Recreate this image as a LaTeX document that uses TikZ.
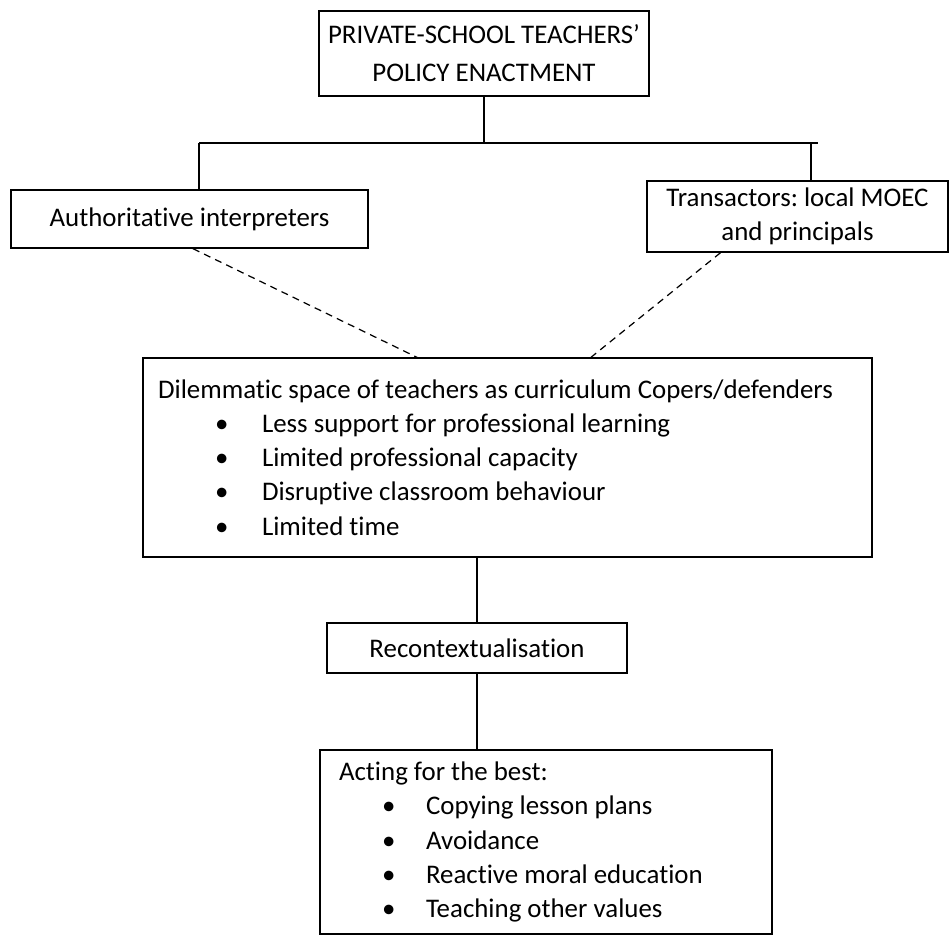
\documentclass[tikz,border=0pt]{standalone}
\usepackage{fontspec}
\setmainfont{Carlito}[Ligatures=NoCommon]
\usetikzlibrary{positioning,calc}
\frenchspacing

\newcommand{\dlitem}[1]{\\\hspace*{1.14cm}\makebox[0.94cm][l]{\textbullet}#1}
\newcommand{\acitem}[1]{\\\hspace*{0.86cm}\makebox[0.88cm][l]{\textbullet}#1}

\begin{document}
\begin{tikzpicture}
	[
		x=0.02cm, y=-0.02cm,
		every node/.style={font=\fontsize{15.3}{19.5}\selectfont},
		rectanglenode/.style={rectangle, draw=black, line width=0.8pt, align=center},
		listnode/.style={rectangle, draw=black, line width=0.8pt, align=flush left},
		link/.style={line width=0.8pt},
		dashlink/.style={line width=0.7pt, dash pattern=on 4pt off 3pt},
	]
	\useasboundingbox (0,0) rectangle (950,936);

	\node[rectanglenode, minimum width=6.6cm, minimum height=1.7cm] (policy) at (484,53.5)
		{PRIVATE-SCHOOL TEACHERS’\\[2pt] POLICY ENACTMENT};
	\node[rectanglenode, minimum width=7.14cm, minimum height=1.16cm] (authint) at (189.5,219)
		{Authoritative interpreters};
	\node[rectanglenode, minimum width=6.02cm, minimum height=1.42cm] (transact) at (797.5,216.5)
		{Transactors: local MOEC\\ and principals};

	\node[listnode, minimum width=14.58cm, minimum height=3.98cm, text width=13.98cm, inner xsep=0.3cm] (dilemma) at (507.5,457.5)
		{Dilemmatic space of teachers as curriculum Copers/defenders
		\dlitem{Less support for professional learning}
		\dlitem{Limited professional capacity}
		\dlitem{Disruptive classroom behaviour}
		\dlitem{Limited time}};

	\node[rectanglenode, minimum width=6cm, minimum height=1cm] (recon) at (477,648)
		{Recontextualisation};

	\node[listnode, minimum width=9.04cm, minimum height=3.68cm, text width=8.28cm, inner xsep=0.38cm] (acting) at (546,842)
		{Acting for the best:
		\acitem{Copying lesson plans}
		\acitem{Avoidance}
		\acitem{Reactive moral education}
		\acitem{Teaching other values}};

	% branch from the top box
	\coordinate (fork) at (policy.south |- 0,143);
	\coordinate (lbranch) at (199,143);
	\coordinate (rbranch) at (811,143);
	\coordinate (rend) at (818,143);

	\draw[link] (policy.south) -- (fork);
	\draw[link] (lbranch) -- (rend);
	\draw[link] (lbranch) -- (lbranch |- authint.north);
	\draw[link] (rbranch) -- (rbranch |- transact.north);

	\draw[dashlink] ([xshift=0.07cm]authint.south) -- ([xshift=-1.81cm]dilemma.north);
	\draw[dashlink] ([xshift=-1.54cm]transact.south) -- ([xshift=1.67cm]dilemma.north);

	\draw[link] (recon.north |- dilemma.south) -- (recon.north);
	\draw[link] (recon.south) -- (recon.south |- acting.north);
\end{tikzpicture}
\end{document}
